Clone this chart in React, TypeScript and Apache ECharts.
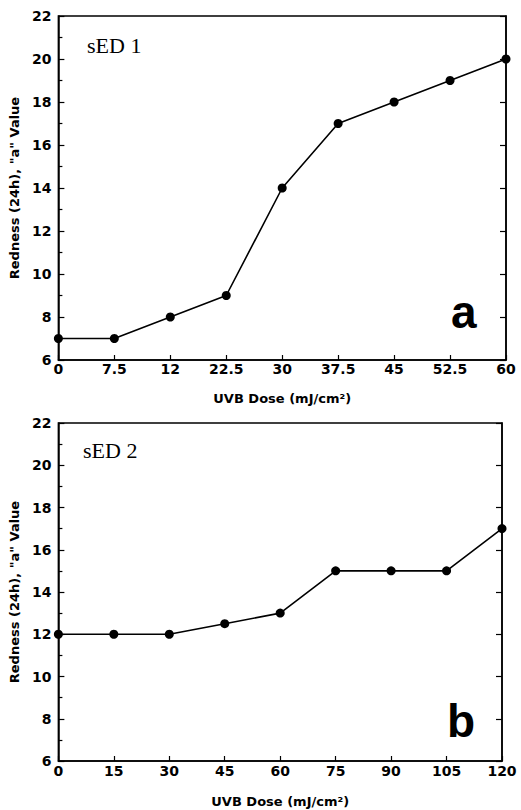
import React, { useEffect, useRef } from "react";
import * as echarts from "echarts";

const dosesA = ["0", "7.5", "12", "22.5", "30", "37.5", "45", "52.5", "60"];
const rednessA = [7, 7, 8, 9, 14, 17, 18, 19, 20];
const dosesB = ["0", "15", "30", "45", "60", "75", "90", "105", "120"];
const rednessB = [12, 12, 12, 12.5, 13, 15, 15, 15, 17];
const yMin = 6;
const yMax = 22;
const yStep = 2;

const LABEL_FONT = "'DejaVu Sans', Verdana, sans-serif";

export default function App() {
  const ref = useRef<HTMLDivElement>(null);
  useEffect(() => {
    document.body.style.margin = "0";
    if (!ref.current) return;
    const chart = echarts.init(ref.current, null, { renderer: "svg" });

    const grids = [
      { left: 57, right: 15, top: 16, height: 344 },
      { left: 56, right: 19, top: 423, height: 338 },
    ];

    const xAxisFor = (cats: string[], gridIndex: number, nameGap: number, margin: number) => ({
      type: "category",
      gridIndex,
      data: cats,
      boundaryGap: false,
      name: "UVB Dose (mJ/cm²)",
      nameLocation: "middle",
      nameGap,
      nameTextStyle: { fontFamily: LABEL_FONT, fontWeight: "bold", fontSize: 13, color: "#000" },
      axisLine: { lineStyle: { color: "#000", width: 1.5 } },
      axisTick: { inside: true, length: 5, lineStyle: { color: "#000", width: 1.2 } },
      axisLabel: { color: "#000", fontFamily: LABEL_FONT, fontWeight: "bold", fontSize: 14, margin },
      splitLine: { show: false },
    });

    const yAxisLeft = (gridIndex: number, nameGap: number) => ({
      type: "value",
      gridIndex,
      min: yMin,
      max: yMax,
      interval: yStep,
      name: 'Redness (24h), "a" Value',
      nameLocation: "middle",
      nameGap,
      nameTextStyle: { fontFamily: LABEL_FONT, fontWeight: "bold", fontSize: 13, color: "#000" },
      axisLine: { show: true, lineStyle: { color: "#000", width: 1.5 } },
      axisTick: { show: true, inside: true, length: 6, lineStyle: { color: "#000", width: 1.2 } },
      minorTick: { show: true, splitNumber: 2, length: 4, lineStyle: { color: "#000", width: 1.2 } },
      axisLabel: { color: "#000", fontFamily: LABEL_FONT, fontWeight: "bold", fontSize: 14, margin: 7 },
      splitLine: { show: false },
    });

    const yAxisRight = (gridIndex: number) => ({
      type: "value",
      gridIndex,
      position: "right",
      min: yMin,
      max: yMax,
      interval: yStep,
      axisLine: { show: true, lineStyle: { color: "#000", width: 1.5 } },
      axisTick: { show: true, inside: true, length: 6, lineStyle: { color: "#000", width: 1.2 } },
      axisLabel: { show: false },
      splitLine: { show: false },
    });

    const lineSeries = (data: number[], xi: number, yi: number) => ({
      type: "line",
      xAxisIndex: xi,
      yAxisIndex: yi,
      data,
      symbol: "circle",
      symbolSize: 9,
      itemStyle: { color: "#000" },
      lineStyle: { color: "#000", width: 1.6 },
      z: 5,
    });

    chart.setOption({
      animation: false,
      backgroundColor: "#fff",
      grid: grids.map((g) => ({ ...g, show: true, borderColor: "#000", borderWidth: 1.5, backgroundColor: "transparent" })),
      xAxis: [xAxisFor(dosesA, 0, 32, 2), xAxisFor(dosesB, 1, 34, 3)],
      yAxis: [yAxisLeft(0, 34), yAxisRight(0), yAxisLeft(1, 36), yAxisRight(1)],
      series: [lineSeries(rednessA, 0, 0), lineSeries(rednessB, 1, 2)],
      graphic: [
        { type: "text", x: 87, y: 45, style: { text: "sED 1", font: "22px 'Liberation Serif', 'Times New Roman', serif", fill: "#000", verticalAlign: "middle" } },
        { type: "text", x: 83, y: 450, style: { text: "sED 2", font: "22px 'Liberation Serif', 'Times New Roman', serif", fill: "#000", verticalAlign: "middle" } },
        { type: "text", x: 451, y: 312, style: { text: "a", font: "bold 46px 'Liberation Sans', Arial, sans-serif", fill: "#000", verticalAlign: "middle" } },
        { type: "text", x: 447, y: 721, style: { text: "b", font: "bold 46px 'Liberation Sans', Arial, sans-serif", fill: "#000", verticalAlign: "middle" } },
      ],
    });
    return () => chart.dispose();
  }, []);
  return <div ref={ref} style={{ width: 521, height: 810 }} />;
}
